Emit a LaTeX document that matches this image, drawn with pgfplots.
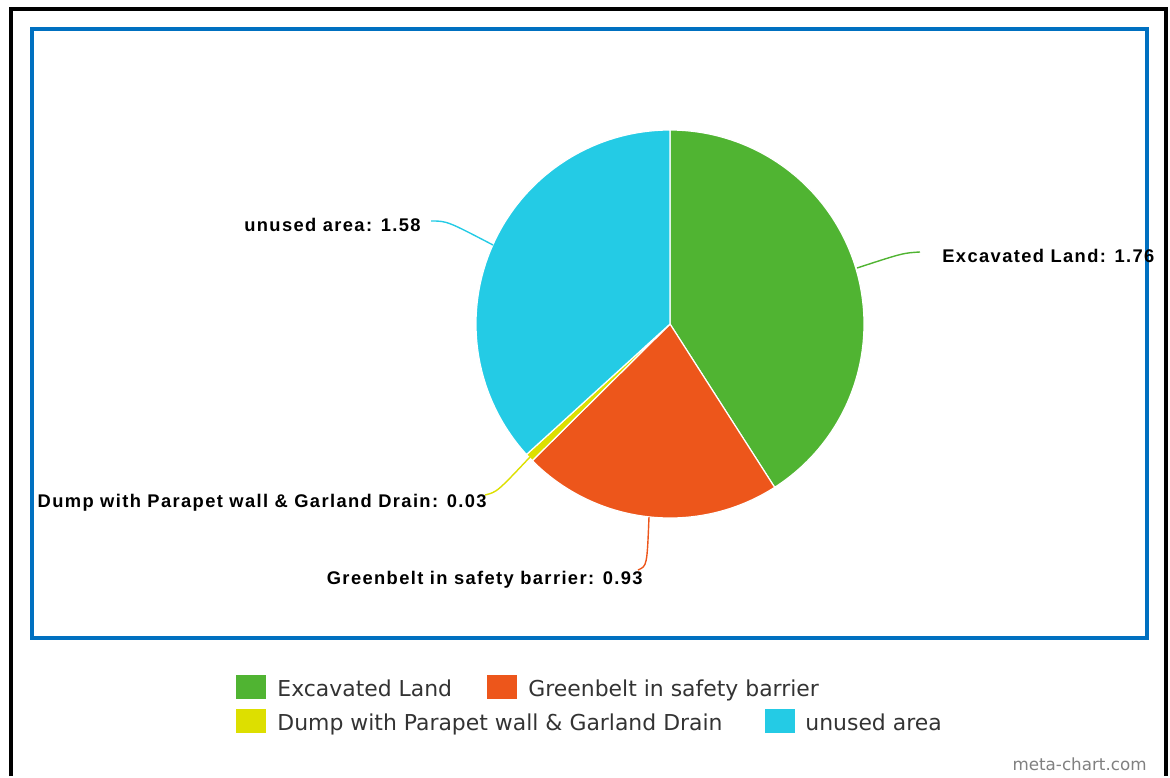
\documentclass[border=0pt]{standalone}
\usepackage{pgfplots}
\pgfplotsset{compat=1.18}
\usepackage{fontspec}
\setmainfont{DejaVu Sans}
\newfontfamily\labfont[LetterSpace=7.5]{Liberation Sans}
\definecolor{cA}{HTML}{50B432}
\definecolor{cB}{HTML}{ED561B}
\definecolor{cC}{HTML}{DDDF00}
\definecolor{cD}{HTML}{24CBE5}
\definecolor{frameblue}{HTML}{0070C0}
\definecolor{legtext}{HTML}{333333}
\begin{document}
\begin{tikzpicture}
% values
\pgfmathsetmacro{\vA}{1.76}% Excavated Land
\pgfmathsetmacro{\vB}{0.93}% Greenbelt in safety barrier
\pgfmathsetmacro{\vC}{0.03}% Dump with Parapet wall & Garland Drain
\pgfmathsetmacro{\vD}{1.58}% unused area
\pgfmathsetmacro{\tot}{\vA+\vB+\vC+\vD}
\pgfmathsetmacro{\aA}{90}
\pgfmathsetmacro{\aB}{\aA-360*\vA/\tot}
\pgfmathsetmacro{\aC}{\aB-360*\vB/\tot}
\pgfmathsetmacro{\aD}{\aC-360*\vC/\tot}
\pgfmathsetmacro{\aE}{\aD-360*\vD/\tot}
\begin{axis}[scale only axis, width=585bp, height=388bp,
  xmin=0, xmax=1170, ymin=0, ymax=776, y dir=reverse,
  hide axis, clip=false]
\path (axis cs:0,0) rectangle (axis cs:1170,776);
% frames
\draw[black, line width=2bp] (axis cs:11,776) -- (axis cs:11,9) -- (axis cs:1166,9) -- (axis cs:1166,776);
\draw[frameblue, line width=2bp] (axis cs:32,29) rectangle (axis cs:1146.5,638);
% pie
\addplot[fill=cA, draw=white, line width=0.6bp, domain=\aB:\aA, samples=120, variable=\t]
  ({670+194*cos(\t)},{324-194*sin(\t)}) -- (axis cs:670,324) -- cycle;
\addplot[fill=cB, draw=white, line width=0.6bp, domain=\aC:\aB, samples=80, variable=\t]
  ({670+194*cos(\t)},{324-194*sin(\t)}) -- (axis cs:670,324) -- cycle;
\addplot[fill=cC, draw=white, line width=0.6bp, domain=\aD:\aC, samples=10, variable=\t]
  ({670+194*cos(\t)},{324-194*sin(\t)}) -- (axis cs:670,324) -- cycle;
\addplot[fill=cD, draw=white, line width=0.6bp, domain=\aE:\aD, samples=120, variable=\t]
  ({670+194*cos(\t)},{324-194*sin(\t)}) -- (axis cs:670,324) -- cycle;
% connectors
\draw[cD, line width=0.7bp] (axis cs:431,221) .. controls (axis cs:447,221) .. (axis cs:493,245);
\draw[cA, line width=0.7bp] (axis cs:857,268) .. controls (axis cs:903,253) .. (axis cs:920,252);
\draw[cC, line width=0.7bp] (axis cs:530,457) .. controls (axis cs:497,492) .. (axis cs:485,495);
\draw[cB, line width=0.7bp] (axis cs:649,517) .. controls (axis cs:647,566) .. (axis cs:638,570);
% labels
\begin{scope}[every node/.style={inner sep=0pt, font={\labfont\bfseries\fontsize{9.2}{11}\selectfont}}]
\node[anchor=base east] at (axis cs:421,231) {unused area: 1.58};
\node[anchor=base west] at (axis cs:942,262) {Excavated Land: 1.76};
\node[anchor=base east] at (axis cs:487,507) {Dump with Parapet wall \& Garland Drain: 0.03};
\node[anchor=base east] at (axis cs:643,584) {Greenbelt in safety barrier: 0.93};
\end{scope}
% legend
\fill[cA] (axis cs:236,675) rectangle (axis cs:266,699);
\fill[cB] (axis cs:487,675) rectangle (axis cs:517,699);
\fill[cC] (axis cs:236,709) rectangle (axis cs:266,733);
\fill[cD] (axis cs:765,709) rectangle (axis cs:795,733);
\begin{scope}[every node/.style={inner sep=0pt, anchor=base west, text=legtext, font={\fontsize{11}{13}\selectfont}}]
\node at (axis cs:277,696) {Excavated Land};
\node at (axis cs:528,696) {Greenbelt in safety barrier};
\node at (axis cs:277,730) {Dump with Parapet wall \& Garland Drain};
\node at (axis cs:805,730) {unused area};
\end{scope}
\node[inner sep=0pt, anchor=base east, text=black!50, font={\fontsize{8.4}{10}\selectfont}] at (axis cs:1147,770) {meta-chart.com};
\end{axis}
\end{tikzpicture}
\end{document}
